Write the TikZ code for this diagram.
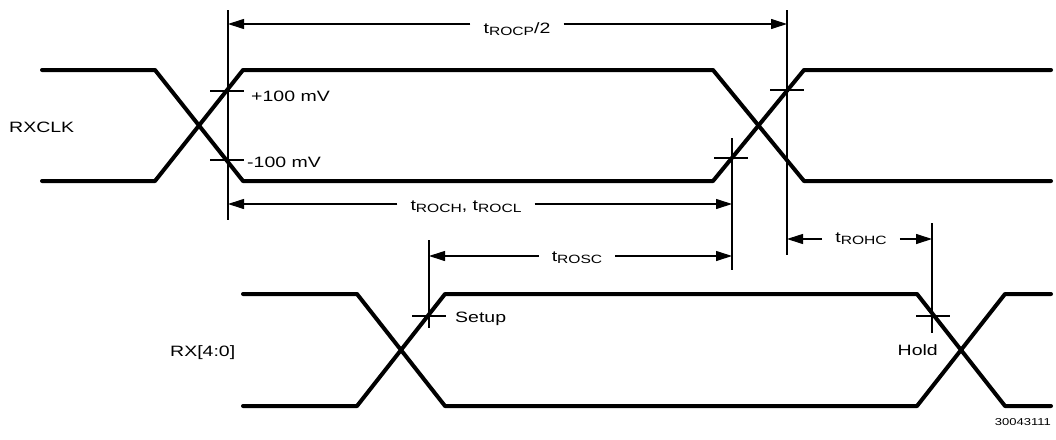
\documentclass[tikz,border=0pt]{standalone}
\usepackage{fontspec}
\setmainfont{Liberation Sans}[FakeStretch=1.3]
\usetikzlibrary{arrows.meta}

% subscript of a timing name
\newcommand{\tsub}[1]{\raisebox{-2.5pt}{\fontsize{12}{14}\selectfont #1}}

\begin{document}
\begin{tikzpicture}[x=1pt,y=1pt,yscale=-1,
    sig/.style={line width=4pt, line join=round, line cap=round},
    guide/.style={line width=1.2pt},
    dimarrow/.style={line width=1.1pt, -{Triangle[length=16pt,width=10pt]}},
    lbl/.style={inner sep=0pt, font=\fontsize{15}{18}\selectfont},
    dimlbl/.style={lbl, inner xsep=13pt}]
    \useasboundingbox (0,0) rectangle (1056,439);

    % RXCLK waveform
    \draw [sig] (42,70) -- (155,70) -- (243,181) -- (713,181) -- (804,70) -- (1051,70);
    \draw [sig] (42,181) -- (155,181) -- (243,70) -- (713,70) -- (804,181) -- (1051,181);
    % RX[4:0] waveform
    \draw [sig] (243,294) -- (357,294) -- (445,406) -- (917,406) -- (1005,294) -- (1051,294);
    \draw [sig] (243,406) -- (357,406) -- (445,294) -- (917,294) -- (1005,406) -- (1051,406);

    % Reference lines
    \foreach \x/\ya/\yb in {228/10/220, 787/10/255, 732/138/270, 429/240/328, 932/223/333}
        \draw [guide] (\x,\ya) -- (\x,\yb);
    % Level marks
    \foreach \x/\y in {227/91, 227/160, 787/90, 731/158, 429/316, 933/316}
        \draw [guide] (\x-17,\y) -- (\x+17,\y);

    % Text Node
    \node [lbl, anchor=base west] (clk) at (9,132) {RXCLK};
    \node [lbl, anchor=base west] (rx) at (170,356) {RX[4:0]};
    \node [lbl, anchor=base west] (hi) at (251,101) {+100 mV};
    \node [lbl, anchor=base west] (lo) at (247,167) {-100 mV};
    \node [lbl, anchor=base west] (setup) at (455,322) {Setup};
    \node [lbl, anchor=base east] (hold) at (938,355) {Hold};
    \node [inner sep=0pt, font=\fontsize{10}{12}\selectfont, anchor=base east] (fig) at (1051,425) {30043111};

    % Period
    \coordinate (rocpL) at (228,24);
    \coordinate (rocpR) at (787,24);
    \node [dimlbl, anchor=base] (rocp) at (517,33) {t\tsub{ROCP}/2};
    \draw [dimarrow] (rocp.west |- rocpL) -- (rocpL);
    \draw [dimarrow] (rocp.east |- rocpR) -- (rocpR);

    % High / low time
    \coordinate (rochL) at (228,204);
    \coordinate (rochR) at (732,204);
    \node [dimlbl, anchor=base] (roch) at (466,210) {t\tsub{ROCH}, t\tsub{ROCL}};
    \draw [dimarrow] (roch.west |- rochL) -- (rochL);
    \draw [dimarrow] (roch.east |- rochR) -- (rochR);

    % Setup time
    \coordinate (roscL) at (429,256);
    \coordinate (roscR) at (732,256);
    \node [dimlbl, anchor=base] (rosc) at (577,261) {t\tsub{ROSC}};
    \draw [dimarrow] (rosc.west |- roscL) -- (roscL);
    \draw [dimarrow] (rosc.east |- roscR) -- (roscR);

    % Hold time
    \coordinate (rohcL) at (787,239);
    \coordinate (rohcR) at (932,239);
    \node [dimlbl, anchor=base] (rohc) at (861,242) {t\tsub{ROHC}};
    \draw [dimarrow] (rohc.west |- rohcL) -- (rohcL);
    \draw [dimarrow] (rohc.east |- rohcR) -- (rohcR);
\end{tikzpicture}
\end{document}
